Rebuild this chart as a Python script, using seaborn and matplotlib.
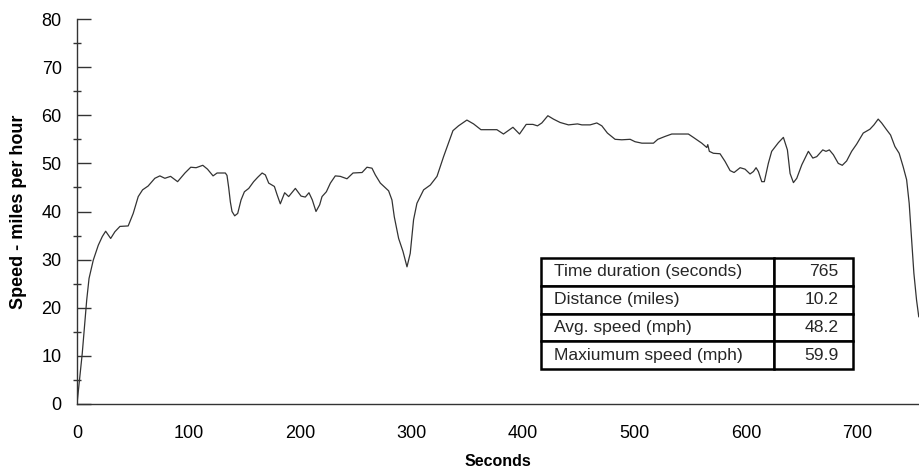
import matplotlib
matplotlib.use("Agg")
import matplotlib.pyplot as plt
from matplotlib.ticker import MultipleLocator
import seaborn as sns

seconds = [0, 4.7, 8.7, 10.8, 14.6, 19.1, 22.7, 25.7, 30.2, 34, 38.5, 45.9, 50.4, 54.9, 58.8,
           63.8, 69.8, 74.3, 78.8, 83.9, 90.2, 96.8, 102, 106.8, 112.8, 117, 122, 125.6, 133,
           134.5, 136, 137.5, 139, 141.4, 144.1, 147.1, 150.1, 154, 158.4, 162, 166, 168.9,
           171.9, 177, 179.4, 182.3, 186.2, 189.8, 195.8, 200.9, 204.7, 208, 211, 214.3, 217.6,
           219.7, 223.6, 227.2, 231.6, 236.1, 242.1, 247.5, 255.6, 260, 264.5, 267.5, 272,
           279.4, 282.4, 284.5, 288.4, 292.3, 295.9, 298.8, 301.8, 304.8, 310.8, 316.8, 322.8,
           328.7, 337.1, 342.1, 349.6, 355.6, 362.2, 366, 376.5, 382.4, 390.9, 396.8, 402.8,
           408.8, 412.9, 416.8, 422.2, 427.2, 433.2, 440.7, 448.8, 452.7, 460.1, 466.1, 470.6,
           475.6, 482.5, 488.5, 496, 500.4, 506.5, 516.9, 520.8, 527.3, 533.3, 548.2, 552.7,
           560.2, 564.7, 565.6, 567, 570.6, 576.6, 581.1, 585.6, 589.2, 594.6, 599, 603.5,
           606.5, 608.9, 611, 614, 616.3, 619.9, 622.9, 628.9, 633.4, 637, 639.4, 642.4,
           645.4, 649.9, 655.8, 659.8, 663.3, 668.7, 671.6, 674.6, 678.2, 682.6, 686.2, 690.1,
           694.6, 699.1, 705, 711, 714.6, 718.4, 721.5, 725.9, 729.5, 733.4, 737.2, 740.8,
           743.9, 746.2, 748.4, 750.4, 752.8, 754.8]
speed = [0, 10.5, 21.6, 26.1, 29.9, 33, 34.8, 35.9, 34.4, 35.8, 36.9, 37, 39.6, 43.1, 44.5,
         45.3, 46.9, 47.4, 46.9, 47.3, 46.2, 48, 49.2, 49.1, 49.6, 48.8, 47.4, 48, 48,
         47.5, 45, 42, 40, 39.1, 39.6, 42.4, 44.1, 44.8, 46.2, 47.1, 48, 47.6,
         45.9, 45.2, 43.5, 41.6, 43.9, 43.1, 44.8, 43.2, 43, 43.9, 42.4, 40, 41.4,
         43.1, 44.1, 45.9, 47.4, 47.3, 46.8, 48, 48.1, 49.2, 49, 47.6, 45.9,
         44.3, 42.4, 38.9, 34.4, 31.7, 28.5, 31.3, 38.3, 41.7, 44.5, 45.5, 47.3,
         51.4, 56.8, 57.8, 59, 58.2, 57, 57, 57, 56.1, 57.5, 56.1, 58.1,
         58.1, 57.8, 58.4, 59.9, 59.2, 58.5, 58, 58.2, 58, 58, 58.4, 57.8,
         56.3, 55, 54.9, 55, 54.5, 54.2, 54.2, 55, 55.6, 56.1, 56.1, 55.4,
         54.2, 53.3, 53.9, 52.5, 52.1, 52, 50.4, 48.5, 48.1, 49.1, 48.8, 47.8,
         48.3, 49.1, 48.3, 46.2, 46.2, 50, 52.5, 54.3, 55.4, 52.8, 47.9, 46,
         46.9, 49.7, 52.5, 51.1, 51.4, 52.8, 52.5, 52.8, 51.8, 50, 49.6, 50.5,
         52.5, 54, 56.3, 57.1, 58, 59.2, 58.4, 57, 55.9, 53.5, 52.1, 49.3,
         46.6, 41.7, 34.1, 27.2, 21.6, 18.1]

stat_labels = ["Time duration (seconds)", "Distance (miles)", "Avg. speed (mph)", "Maxiumum speed (mph)"]
stat_values = ["765", "10.2", "48.2", "59.9"]

sns.set_theme(style="white")
plt.rcParams['font.family'] = ['Liberation Sans', 'DejaVu Sans']

fig = plt.figure(figsize=(9.19, 4.70), dpi=100)
ax = fig.add_axes([77/919, 66/470, 842/919, 385/470])

sns.lineplot(x=seconds, y=speed, ax=ax, color="#333333", linewidth=0.9,
             estimator=None, errorbar=None)

ax.set_xlim(0, 755)
ax.set_ylim(0, 80)
ax.set_xticks(range(0, 701, 100))
ax.set_yticks(range(0, 81, 10))
ax.yaxis.set_minor_locator(MultipleLocator(5))
sns.despine(ax=ax)
for s in ["left", "bottom"]:
    ax.spines[s].set_color("#333333")
    ax.spines[s].set_linewidth(1.0)

ax.tick_params(axis="y", which="major", direction="in", length=10, width=1,
               color="#333333", labelsize=13, pad=11, left=True, labelcolor="black")
ax.tick_params(axis="y", which="minor", direction="inout", length=6, width=1,
               color="#333333", left=True)
ax.tick_params(axis="x", length=0, labelsize=13, pad=15, labelcolor="black")

ax.set_xlabel("Seconds", fontsize=11.5, fontweight="bold", color="black")
ax.set_ylabel("Speed - miles per hour", fontsize=13, fontweight="bold", color="black")
ax.xaxis.set_label_coords(0.5, -0.13)
ax.yaxis.set_label_coords(-0.059, 0.5)

tbl = ax.table(cellText=[[l, v] for l, v in zip(stat_labels, stat_values)],
               cellLoc="left", colWidths=[0.747, 0.253],
               bbox=[0.551, 0.0909, 0.3705, 0.288])
tbl.auto_set_font_size(False)
for (r, c), cell in tbl.get_celld().items():
    cell.set_linewidth(1.8)
    cell.set_edgecolor("black")
    cell.set_facecolor("white")
    cell.get_text().set_fontsize(12.6)
    if c == 0:
        cell.PAD = 0.056
        cell.get_text().set_ha("left")
    else:
        cell.PAD = 0.18
        cell._loc = "right"
        cell.get_text().set_ha("right")

fig.savefig("out.png", dpi=100)
